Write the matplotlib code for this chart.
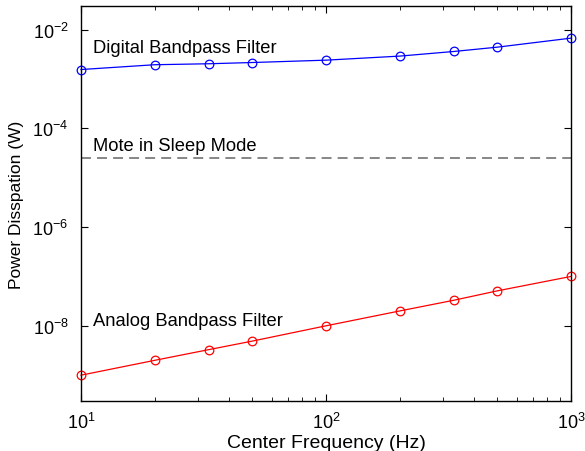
import matplotlib
matplotlib.use("Agg")
import matplotlib.pyplot as plt
from matplotlib.ticker import NullLocator

plt.rcParams['font.family'] = ['Liberation Sans', 'DejaVu Sans']
plt.rcParams['mathtext.fontset'] = 'custom'
plt.rcParams['mathtext.rm'] = 'Liberation Sans'

# center frequencies (Hz)
freq = [10, 20, 33.3, 50, 100, 200, 333, 500, 1000]
# power dissipation (W)
digital = [1.55e-3, 1.94e-3, 2.03e-3, 2.15e-3, 2.4e-3, 2.9e-3, 3.6e-3, 4.4e-3, 6.7e-3]
analog = [1.0e-9, 2.0e-9, 3.3e-9, 4.9e-9, 1.0e-8, 2.0e-8, 3.3e-8, 5.1e-8, 1.0e-7]
sleep_power = 2.5e-5

fig = plt.figure(figsize=(5.85, 4.52), dpi=100)
ax = fig.add_axes([81/585, 1 - 402/452, 490/585, 395/452])

ax.plot(freq, digital, color='b', lw=0.9, marker='o', ms=6.2, mfc='none', mew=0.9, clip_on=False)
ax.plot(freq, analog, color='r', lw=0.9, marker='o', ms=6.2, mfc='none', mew=0.9, clip_on=False)
ax.axhline(sleep_power, color='#666666', lw=1.1, ls=(0, (6.5, 4)))

ax.set_xscale('log')
ax.set_yscale('log')
ax.set_xlim(10, 1000)
ax.set_ylim(3e-10, 3e-2)

ax.set_yticks([1e-8, 1e-6, 1e-4, 1e-2])
ax.yaxis.set_minor_locator(NullLocator())

ax.tick_params(which='both', direction='in', top=True, right=True, labelsize=13)
ax.tick_params(which='major', length=5, width=0.8)
ax.tick_params(which='minor', length=3, width=0.6)
ax.tick_params(axis='x', pad=8)
ax.tick_params(axis='y', pad=9)
for s in ax.spines.values():
    s.set_linewidth(1.0)

ax.text(11.2, 4.4e-3, 'Digital Bandpass Filter', fontsize=13.2, va='center')
ax.text(11.2, 4.4e-5, 'Mote in Sleep Mode', fontsize=13.2, va='center')
ax.text(11.2, 1.3e-8, 'Analog Bandpass Filter', fontsize=13.2, va='center')

ax.set_xlabel('Center Frequency (Hz)', fontsize=14, labelpad=1)
ax.set_ylabel('Power Disspation (W)', fontsize=12.5, labelpad=6)

fig.savefig('out.png', dpi=100)
